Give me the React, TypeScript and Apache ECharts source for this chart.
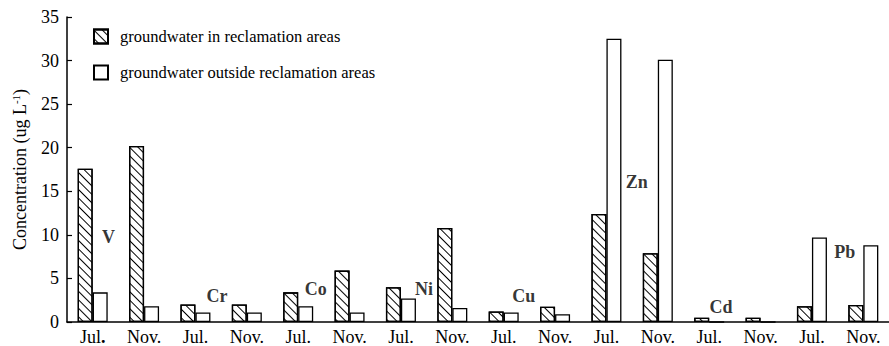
import React, { useEffect, useRef } from "react";
import * as echarts from "echarts";

const categories = ["Jul.", "Nov.", "Jul.", "Nov.", "Jul.", "Nov.", "Jul.", "Nov.", "Jul.", "Nov.", "Jul.", "Nov.", "Jul.", "Nov.", "Jul.", "Nov."];
const inReclamation = [17.6, 20.2, 2.0, 2.0, 3.4, 5.9, 4.0, 10.8, 1.2, 1.75, 12.4, 7.9, 0.5, 0.5, 1.8, 1.95];
const outsideReclamation = [3.4, 1.8, 1.1, 1.1, 1.8, 1.1, 2.7, 1.6, 1.1, 0.9, 32.5, 30.1, 0, 0, 9.7, 8.8];
const elements = ["V", "Cr", "Co", "Ni", "Cu", "Zn", "Cd", "Pb"];
const elementX = [0.81, 2.92, 4.84, 6.95, 8.89, 11.09, 12.73, 15.14];
const elementY = [9.8, 3.0, 3.8, 3.8, 3.0, 16.1, 1.7, 8.0];
const yTicks = { min: 0, max: 35, interval: 5 };

const FONT = "'Liberation Serif', 'Times New Roman', serif";

export default function App() {
  const ref = useRef<HTMLDivElement>(null);
  useEffect(() => {
    document.body.style.margin = "0";
    const chart = echarts.init(ref.current!, null, { renderer: "svg" });
    const hatch = {
      symbol: "rect",
      symbolSize: 1,
      color: "#000",
      dashArrayX: [1, 0],
      dashArrayY: [1, 5],
      rotation: Math.PI / 4,
    };
    chart.setOption({
      animation: false,
      backgroundColor: "#fff",
      textStyle: { fontFamily: FONT, color: "#000" },
      grid: { left: 67, top: 17, bottom: 23, right: -11 },
      legend: {
        left: 88,
        top: 23,
        orient: "vertical",
        itemWidth: 14,
        itemHeight: 14,
        itemGap: 19,
        textStyle: { fontFamily: FONT, fontSize: 16.5, color: "#000", padding: [0, 0, 0, 7] },
        data: [
          { name: "groundwater in reclamation areas", icon: "rect" },
          { name: "groundwater outside reclamation areas", icon: "rect" },
        ],
      },
      xAxis: [
        {
          type: "category",
          data: categories,
          axisLine: { lineStyle: { color: "#000", width: 1.5 } },
          axisTick: { inside: true, length: 4, lineStyle: { color: "#000", width: 1.2 } },
          axisLabel: {
            interval: 0,
            color: "#000",
            fontFamily: FONT,
            fontSize: 18,
            margin: 6,
            formatter: (v: string, i: number) => (i === 0 ? "Jul{b|.}" : v),
            rich: { b: { fontWeight: "bold", fontSize: 18, fontFamily: FONT, color: "#000" } },
          },
        },
        {
          type: "value",
          min: 0,
          max: 16,
          show: false,
        },
      ],
      yAxis: {
        type: "value",
        min: yTicks.min,
        max: yTicks.max,
        interval: yTicks.interval,
        splitLine: { show: false },
        axisLine: { show: true, lineStyle: { color: "#000", width: 1.5 } },
        axisTick: { show: true, inside: true, length: 5, lineStyle: { color: "#000", width: 1.2 } },
        axisLabel: { color: "#000", fontFamily: FONT, fontSize: 18, margin: 8 },
        name: "Concentration (ug L{s|-1})",
        nameLocation: "middle",
        nameGap: 37,
        nameTextStyle: {
          fontFamily: FONT,
          fontSize: 18,
          color: "#000",
          rich: { s: { fontSize: 11, verticalAlign: "top", padding: [0, 0, 9, 0], fontFamily: FONT, color: "#000" } },
        },
      },
      series: [
        {
          name: "groundwater in reclamation areas",
          type: "bar",
          data: inReclamation,
          barWidth: 15,
          barGap: "0%",
          itemStyle: { color: "#fff", borderColor: "#000", borderWidth: 1.3, decal: hatch },
        },
        {
          name: "groundwater outside reclamation areas",
          type: "bar",
          data: outsideReclamation,
          barWidth: 15,
          barGap: "0%",
          itemStyle: { color: "#fff", borderColor: "#000", borderWidth: 1.3 },
        },
        {
          type: "scatter",
          xAxisIndex: 1,
          symbolSize: 0,
          data: elements.map((e, i) => ({ name: e, value: [elementX[i], elementY[i]] })),
          label: {
            show: true,
            position: "inside",
            formatter: (p: any) => p.name,
            fontFamily: FONT,
            fontWeight: "bold",
            fontSize: 18,
            color: "#000",
          },
        },
      ],
    });
    return () => chart.dispose();
  }, []);
  return <div ref={ref} style={{ width: 889, height: 346 }} />;
}
